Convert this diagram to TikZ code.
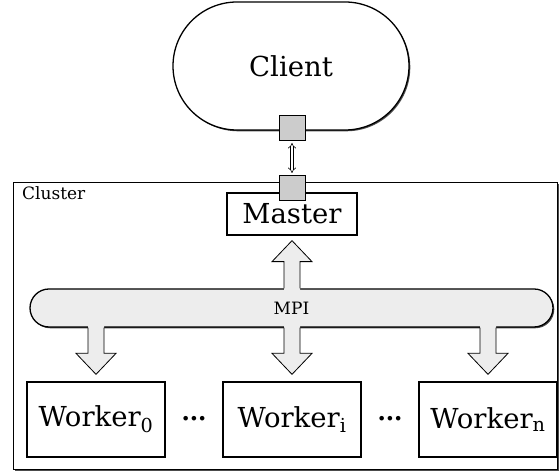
\documentclass[tikz,border=0pt]{standalone}
\usepackage{fontspec}
\setmainfont{DejaVu Serif}
\usetikzlibrary{shapes.misc,shadows,calc,arrows.meta}
\tikzset{
  x=1pt,y=1pt,
  shad/.style={drop shadow={shadow xshift=1.3pt,shadow yshift=-1.3pt,fill=black!70,opacity=1}},
  box/.style={draw,line width=1.3pt,fill=white,shad,inner sep=0pt},
  big/.style={font=\fontsize{27.5}{32}\selectfont},
  small/.style={font=\fontsize{17}{19}\selectfont},
  port/.style={draw,line width=1pt,fill=gray!40,minimum width=26pt,minimum height=25pt,inner sep=0pt},
  fatfill/.style={fill=gray!14},
  fatline/.style={draw,line width=0.8pt,line join=miter},
  dots/.style={font=\bfseries\fontsize{13}{15}\selectfont,inner sep=0pt},
}
\newcommand\fatdown[1]{%
  \coordinate (A) at (#1.north |- mpi.south);
  \coordinate (T) at ($(#1.north)+(0,7)$);
  \fill[fatfill] ($(A)+(-8,1.5)$) -- ($(T)+(-8,21)$) -- ($(T)+(-20,21)$) -- (T) -- ($(T)+(20,21)$) -- ($(T)+(8,21)$) -- ($(A)+(8,1.5)$) -- cycle;
  \draw[fatline] ($(A)+(-8,0)$) -- ($(T)+(-8,21)$) -- ($(T)+(-20,21)$) -- (T) -- ($(T)+(20,21)$) -- ($(T)+(8,21)$) -- ($(A)+(8,0)$);
}
\begin{document}
\begin{tikzpicture}
\useasboundingbox (0,0) rectangle (560,473);
% cluster
\node[box,anchor=south west,minimum width=544pt,minimum height=287pt] (cluster) at (13,3) {};
\node[anchor=north west,inner sep=0pt,small] (clabel) at (22,287) {Cluster};
% client
\node[box,rounded rectangle,minimum width=236pt,minimum height=128pt,big] (client) at (291,407) {Client};
% master
\node[box,minimum width=130pt,minimum height=42pt,big] (master) at (292,259) {Master};
% ports
\node[port] (cport) at (292,345) {};
\node[port] (mport) at (292,285) {};
\draw[double,double distance=2.2pt,line width=0.6pt,{Implies[]}-{Implies[]}] ($(cport.south)+(0,-2)$) -- ($(mport.north)+(0,2)$);
% MPI bar
\node[box,rounded rectangle,fill=gray!14,minimum width=523pt,minimum height=38pt,small] (mpi) at (291.5,165) {MPI};
% workers
\node[box,minimum width=138pt,minimum height=75pt,big] (w0) at (96,53.5) {Worker\textsubscript{0}};
\node[box,minimum width=138pt,minimum height=75pt,big] (wi) at (292,53.5) {Worker\textsubscript{i}};
\node[box,minimum width=138pt,minimum height=75pt,big] (wn) at (488,53.5) {Worker\textsubscript{n}};
\node[dots] (d1) at ($(w0.east)!0.5!(wi.west)$) {•••};
\node[dots] (d2) at ($(wi.east)!0.5!(wn.west)$) {•••};
% fat arrows
\fatdown{w0}
\fatdown{wi}
\fatdown{wn}
% up arrow to master
\coordinate (B) at (master.south |- mpi.north);
\coordinate (U) at ($(master.south)+(0,-5)$);
\fill[fatfill] ($(B)+(-8,-1.5)$) -- ($(U)+(-8,-21)$) -- ($(U)+(-20,-21)$) -- (U) -- ($(U)+(20,-21)$) -- ($(U)+(8,-21)$) -- ($(B)+(8,-1.5)$) -- cycle;
\draw[fatline] ($(B)+(-8,0)$) -- ($(U)+(-8,-21)$) -- ($(U)+(-20,-21)$) -- (U) -- ($(U)+(20,-21)$) -- ($(U)+(8,-21)$) -- ($(B)+(8,0)$);
\end{tikzpicture}
\end{document}
